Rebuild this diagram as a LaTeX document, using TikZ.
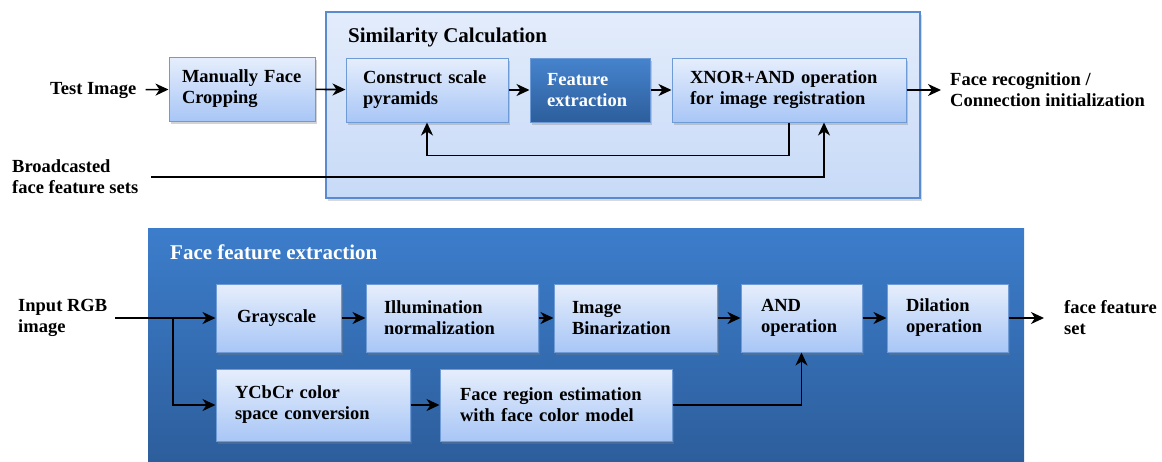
\documentclass[tikz,border=0pt]{standalone}
\usepackage{fontspec}
\setmainfont{Liberation Serif}
\usetikzlibrary{arrows.meta,shadows}

\definecolor{boxtop}{HTML}{E6EEFC}
\definecolor{boxbot}{HTML}{A8C6F6}
\definecolor{boxline}{HTML}{6E9AD6}
\definecolor{simtop}{HTML}{E3ECFB}
\definecolor{simbot}{HTML}{C7DAF7}
\definecolor{simline}{HTML}{5A8AD0}
\definecolor{darktop}{HTML}{3C7DCB}
\definecolor{darkbot}{HTML}{2D5E9C}

\tikzset{
  txt/.style={font=\bfseries\fontsize{18.5}{21}\selectfont},
  lbl/.style={txt, inner sep=0pt, anchor=west, align=left, text=black},
  % #1 = box width, #2 = side padding
  bx/.style 2 args={txt, rectangle, draw=boxline, line width=1pt, top color=boxtop,
    bottom color=boxbot, align=left, minimum width=#1, inner xsep=#2,
    text width={#1-2*#2}, inner ysep=0pt,
    drop shadow={shadow xshift=1.5pt, shadow yshift=-3pt, opacity=0.35}},
  darkbx/.style={top color=darktop!95!white, bottom color=darkbot, text=white},
  cont/.style={rectangle, inner sep=0pt, line width=1.2pt},
  ttl/.style={font=\bfseries\fontsize{21}{24}\selectfont, inner sep=0pt, anchor=west},
  arr/.style={-{Stealth[length=13pt,width=12pt,inset=4pt]}, line width=1.6pt, black}
}

\begin{document}
\begin{tikzpicture}[x=1pt,y=-1pt]
\useasboundingbox (0,0) rectangle (1162,461);

% --- similarity calculation stage ---
\node[cont, draw=simline, top color=simtop, bottom color=simbot,
      minimum width=594pt, minimum height=186pt,
      drop shadow={shadow xshift=2pt, shadow yshift=-3pt, opacity=0.3}] (sim) at (623,105) {};
\node[ttl] (simt) at (348,37) {Similarity Calculation};

\node[lbl] (test) at (50,90) {Test Image};
\node[bx={146pt}{13pt}, minimum height=64pt] (crop) at (242,89) {Manually Face\\Cropping};
\node[bx={162pt}{17pt}, minimum height=64pt] (cons) at (427,90) {Construct scale\\pyramids};
\node[bx={120pt}{17pt}, darkbx, minimum height=64pt] (feat) at (590,90) {Feature\\extraction};
\node[bx={234pt}{18pt}, minimum height=64pt] (xnor) at (789,90) {XNOR+AND operation\\for image registration};
\node[lbl] (rec) at (950,90) {Face recognition /\\Connection initialization};
\node[lbl] (broad) at (12,177) {Broadcasted\\face feature sets};

\draw[arr, shorten <=9pt] (test) -- (crop);
\draw[arr] (crop) -- (cons);
\draw[arr] (cons) -- (feat);
\draw[arr] (feat) -- (xnor);
\draw[arr, shorten >=9pt] (xnor) -- (rec);
\draw[arr] (xnor.south) -- ++(0,33) -| (cons.south);
\draw[arr, shorten <=13pt] (broad.east) -| ([xshift=35pt]xnor.south);

% --- face feature extraction stage ---
\node[cont, draw=none, top color=darktop, bottom color=darkbot,
      minimum width=876pt, minimum height=233pt] (ffe) at (586,344.5) {};
\node[ttl, text=white] (ffet) at (170,252) {Face feature extraction};

\node[lbl] (rgb) at (18,318) {Input RGB\\image};
\node[bx={125pt}{21pt}, minimum height=68pt] (gray) at (278.5,318) {Grayscale};
\node[bx={172pt}{18pt}, minimum height=68pt] (illum) at (452,318) {Illumination\\normalization};
\node[bx={163pt}{18pt}, minimum height=68pt] (bin) at (635.5,318) {Image\\Binarization};
\node[bx={121pt}{20pt}, minimum height=68pt] (and) at (801.5,318) {AND\\operation};
\node[bx={121pt}{19pt}, minimum height=68pt] (dil) at (947.5,318) {Dilation\\operation};
\node[lbl] (ffs) at (1064,318) {face feature\\set};
\node[bx={194pt}{19pt}, minimum height=72pt] (ycc) at (313,405) {YCbCr color\\space conversion};
\node[bx={232pt}{20pt}, minimum height=72pt] (reg) at (556,405) {Face region estimation\\with face color model};

\coordinate (split) at (173,318);
\draw[arr, shorten <=8pt] (rgb) -- (gray);
\draw[arr] (split) |- (ycc);
\draw[arr] (gray) -- (illum);
\draw[arr] (illum) -- (bin);
\draw[arr] (bin) -- (and);
\draw[arr] (and) -- (dil);
\draw[arr, shorten >=20pt] (dil) -- (ffs);
\draw[arr] (ycc) -- (reg);
\draw[arr] (reg.east) -| (and.south);
\end{tikzpicture}
\end{document}
